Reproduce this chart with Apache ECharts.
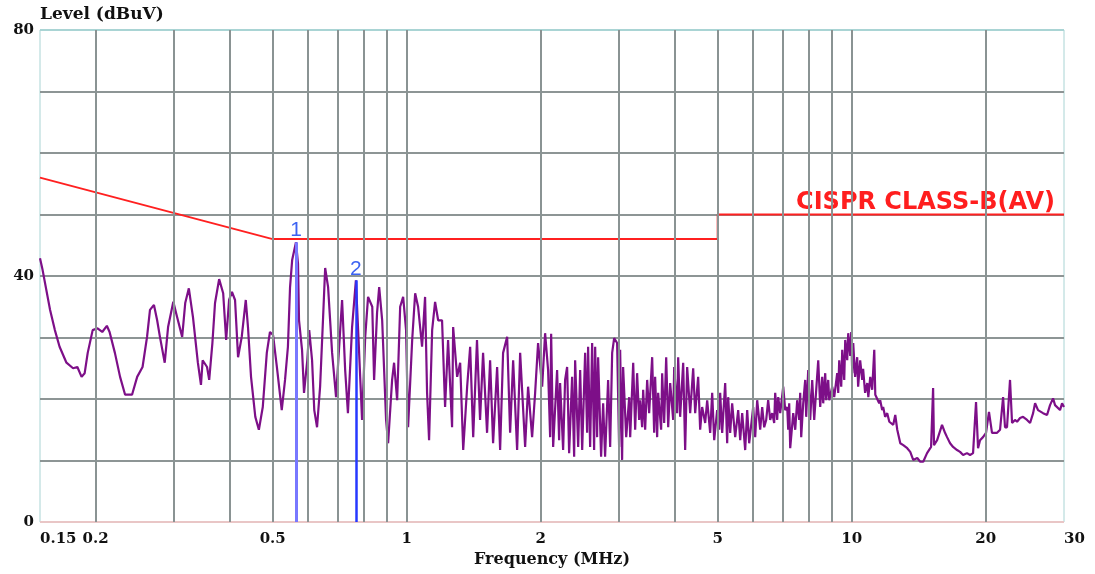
<!DOCTYPE html>
<html>
<head>
<meta charset="utf-8">
<script src="https://cdn.jsdelivr.net/npm/echarts@6/dist/echarts.min.js"></script>
<style>
html, body { margin: 0; padding: 0; background: #fff; }
#main { width: 1095px; height: 574px; }
</style>
</head>
<body>
<div id="main"></div>
<script>
// x axis: frequency in MHz (log), y axis: level in dBuV
var tickFreq = [0.15, 0.2, 0.5, 1, 2, 5, 10, 20, 30];
var gridFreq = [0.2, 0.3, 0.4, 0.5, 0.6, 0.7, 0.8, 0.9, 1, 2, 3, 4, 5, 6, 7, 8, 9, 10, 20];
var levelTicks = [0, 40, 80];

// CISPR class B average limit
var limitFreq = [0.15, 0.5, 5, 5, 30];
var limitLevel = [56, 46, 46, 50, 50];

// peak markers
var markerName = ['1', '2'];
var markerFreq = [0.564, 0.769];
var markerLevel = [45.5, 39.3];

var traceFreq = [
    0.150, 0.152, 0.158, 0.162, 0.166, 0.172, 0.178, 0.182, 0.186, 0.189,
    0.192, 0.197, 0.202, 0.207, 0.212, 0.215, 0.221, 0.227, 0.233, 0.2415,
    0.248, 0.255, 0.261, 0.265, 0.2705, 0.275, 0.279, 0.286, 0.291, 0.299,
    0.305, 0.313, 0.318, 0.324, 0.331, 0.3395, 0.345, 0.348, 0.356, 0.360,
    0.366, 0.371, 0.379, 0.387, 0.393, 0.399, 0.405, 0.4115, 0.418, 0.426,
    0.435, 0.440, 0.447, 0.457, 0.4655, 0.475, 0.485, 0.493, 0.501, 0.511,
    0.524, 0.533, 0.541, 0.547, 0.553, 0.564, 0.570, 0.573, 0.582, 0.588,
    0.598, 0.604, 0.613, 0.620, 0.629, 0.639, 0.649, 0.656, 0.666, 0.680,
    0.694, 0.709, 0.716, 0.7275, 0.738, 0.754, 0.769, 0.778, 0.794, 0.807,
    0.819, 0.837, 0.845, 0.858, 0.8675, 0.881, 0.899, 0.9085, 0.9275, 0.937,
    0.952, 0.967, 0.982, 0.997, 1.0075, 1.029, 1.045, 1.061, 1.083, 1.100,
    1.1115, 1.123, 1.141, 1.1585, 1.177, 1.201, 1.220, 1.239, 1.265, 1.272,
    1.2985, 1.319, 1.340, 1.3675, 1.389, 1.411, 1.439, 1.462, 1.485, 1.516,
    1.540, 1.564, 1.597, 1.622, 1.647, 1.682, 1.708, 1.735, 1.771, 1.799,
    1.846, 1.8745, 1.914, 1.944, 1.974, 2.016, 2.047,
    2.079, 2.101, 2.112, 2.134, 2.178, 2.201, 2.212, 2.247, 2.270, 2.294,
    2.318, 2.354, 2.379, 2.391, 2.429, 2.454, 2.480, 2.518, 2.544, 2.557,
    2.584, 2.611, 2.638, 2.652, 2.679, 2.693, 2.735, 2.764, 2.792, 2.836,
    2.866, 2.896, 2.926, 2.971, 3.002, 3.018, 3.049, 3.065, 3.114, 3.163,
    3.179, 3.229, 3.262, 3.295, 3.330, 3.347, 3.382, 3.400, 3.435, 3.471,
    3.507, 3.562, 3.599, 3.617, 3.655, 3.674, 3.731, 3.751, 3.790, 3.830,
    3.870, 3.910, 3.971, 3.992, 4.053, 4.075, 4.117, 4.182, 4.225, 4.269,
    4.336, 4.404, 4.450, 4.519, 4.566, 4.613, 4.686, 4.735, 4.809, 4.859,
    4.910, 4.986, 5.038, 5.064, 5.117, 5.197, 5.251, 5.278, 5.333, 5.388,
    5.473, 5.559, 5.617, 5.675, 5.764, 5.824, 5.884, 6.008, 6.070,
    6.133, 6.229, 6.294, 6.359, 6.426, 6.492, 6.560, 6.628, 6.697, 6.732,
    6.802, 6.838, 6.909, 7.018, 7.090, 7.164, 7.201, 7.238, 7.276, 7.390,
    7.467, 7.544, 7.622, 7.662, 7.702, 7.782, 7.863, 7.903, 7.986, 8.069,
    8.153, 8.238, 8.324, 8.411, 8.498, 8.586, 8.631, 8.721, 8.766, 8.857,
    8.903, 9.042, 9.136, 9.279, 9.328, 9.376, 9.474, 9.523, 9.622, 9.672,
    9.772, 9.823, 9.925, 9.977, 10.03, 10.08, 10.18, 10.29, 10.34, 10.45,
    10.56, 10.61, 10.72, 10.84, 10.90, 11.01, 11.12, 11.24, 11.30, 11.41,
    11.53, 11.59, 11.71, 11.77, 11.89, 12.02, 12.15, 12.21, 12.40, 12.53,
    12.66, 12.86, 13.06, 13.33, 13.54, 13.75, 14.04, 14.26, 14.48, 14.77,
    15.08, 15.24, 15.31, 15.56, 15.96, 16.21, 16.38, 16.64, 16.90, 17.25,
    17.52, 17.80, 18.16, 18.45, 18.74, 19.03, 19.23, 19.43, 19.73, 20.04,
    20.35, 20.67, 21.22, 21.55, 21.89, 22.11, 22.34, 22.69, 22.93, 23.28,
    23.53, 23.90, 24.27, 24.78, 25.17, 25.57, 25.83, 26.23, 26.50, 26.92,
    27.48, 27.91, 28.35, 28.64, 29.39, 29.70, 30.0
];
var traceLevel = [
    42.9, 41.0, 34.5, 31.2, 28.5, 25.9, 25.0, 25.2, 23.6, 24.2,
    27.5, 31.2, 31.5, 30.9, 31.9, 30.9, 27.5, 23.6, 20.7, 20.7,
    23.6, 25.2, 30.1, 34.5, 35.3, 32.8, 30.1, 25.9, 31.7, 35.8,
    33.3, 30.1, 35.6, 38.0, 33.3, 25.9, 22.3, 26.3, 25.2, 23.1,
    29.1, 35.6, 39.5, 37.2, 29.6, 36.1, 37.4, 36.1, 26.8, 30.1,
    36.1, 31.7, 23.6, 17.1, 15.0, 18.7, 27.5, 30.9, 30.4, 25.2,
    18.2, 23.1, 28.5, 38.2, 42.6, 45.5, 42.0, 32.8, 28.0, 21.0,
    26.3, 31.2, 26.3, 18.2, 15.4, 22.0, 33.3, 41.3, 38.2, 27.5,
    20.3, 31.2, 36.1, 24.7, 17.7, 31.7, 39.3, 31.2, 16.6, 30.1,
    36.6, 35.0, 23.1, 34.0, 38.2, 32.8, 16.6, 12.8, 23.1, 25.9,
    19.8, 35.0, 36.6, 31.2, 15.4, 29.6, 37.2, 35.0, 28.5, 36.6,
    21.0, 13.3, 31.2, 35.8, 32.8, 32.8, 18.7, 29.6, 15.4, 31.7,
    23.6, 25.9, 11.7, 22.0, 28.5, 13.8, 29.6, 16.6, 27.5, 14.5,
    26.3, 12.8, 25.2, 11.7, 27.5, 30.1, 14.5, 26.3, 11.7, 27.5,
    12.2, 22.0, 13.8, 21.0, 29.1, 22.0, 30.7,
    24.7, 13.8, 30.6, 12.2, 24.7, 13.3, 22.6, 11.7, 23.1, 25.2,
    11.2, 23.6, 10.6, 26.3, 12.2, 24.7, 11.7, 27.5, 14.5, 28.5,
    12.2, 29.1, 11.7, 28.5, 13.8, 26.8, 10.6, 19.3, 10.6, 23.1,
    12.2, 27.5, 29.9, 29.1, 12.2, 28.0, 10.1, 25.2, 13.8, 20.3,
    13.8, 25.9, 15.0, 24.2, 16.6, 19.8, 15.4, 21.5, 15.0, 23.1,
    17.7, 26.8, 14.5, 23.6, 13.8, 21.0, 15.0, 24.2, 16.1, 26.8,
    15.4, 22.6, 16.6, 25.2, 17.7, 26.8, 17.1, 25.9, 11.7, 25.2,
    17.7, 25.0, 17.7, 23.6, 15.0, 18.7, 16.1, 19.8, 14.5, 21.0,
    13.3, 18.2, 15.0, 21.0, 14.5, 22.6, 12.8, 20.3, 14.5, 19.3,
    13.8, 18.2, 13.3, 17.7, 11.7, 18.2, 12.8, 18.7, 13.8,
    19.8, 15.0, 18.7, 15.4, 16.6, 19.8, 16.6, 17.7, 16.1, 21.0,
    16.6, 20.3, 17.7, 22.0, 18.2, 18.7, 15.0, 19.3, 12.0, 17.7,
    15.0, 19.8, 16.6, 21.0, 13.8, 19.3, 23.1, 17.1, 24.7, 16.6,
    23.1, 16.6, 21.5, 26.3, 18.7, 23.6, 19.3, 24.2, 19.8, 23.1,
    19.8, 22.0, 20.3, 24.2, 21.0, 26.3, 22.0, 28.0, 23.1, 29.6,
    26.3, 30.7, 27.0, 30.9, 24.2, 29.1, 23.6, 26.8, 22.0, 26.3,
    23.1, 24.9, 21.0, 22.6, 20.3, 23.6, 21.5, 28.0, 20.7, 21.0,
    19.3, 19.8, 18.2, 18.7, 17.1, 17.7, 16.3, 16.6, 15.8, 17.4,
    15.0, 12.8, 12.5, 12.0, 11.4, 10.1, 10.4, 9.8, 9.8, 11.2,
    12.2, 21.8, 12.5, 13.3, 15.8, 14.5, 13.8, 12.8, 12.2, 11.7,
    11.4, 10.9, 11.2, 10.9, 11.2, 19.5, 12.0, 13.3, 13.8, 14.5,
    17.9, 14.5, 14.5, 15.0, 20.3, 15.4, 15.4, 23.1, 16.1, 16.6,
    16.3, 16.9, 17.1, 16.6, 16.1, 17.7, 19.3, 18.2, 18.5, 17.7,
    17.4, 19.0, 20.1, 19.0, 18.2, 19.3, 18.7
];

var labelFont = 'DejaVu Serif';

function draw() {
    var chart = echarts.init(document.getElementById('main'), null, { renderer: 'canvas' });

    var traceData = traceFreq.map(function (f, i) { return [f, traceLevel[i]]; });
    var limitData = limitFreq.map(function (f, i) { return [f, limitLevel[i]]; });

    // blue marker lines from the floor up to each peak
    var markerLines = markerFreq.map(function (f, i) {
        return [
            { coord: [f, 0], name: markerName[i], lineStyle: { color: i == 0 ? '#7878ff' : '#2638ff', width: i == 0 ? 3 : 2.5, type: 'solid' } },
            { coord: [f, markerLevel[i]], name: markerName[i] }
        ];
    });

    // horizontal grid: light border colour at 0 and 80, grey in between
    var hColors = ['#e9c6c6', '#8d9595', '#8d9595', '#8d9595', '#8d9595', '#8d9595', '#8d9595', '#8d9595', '#a9d4d4'];

    var option = {
        backgroundColor: '#fff',
        animation: false,
        grid: {
            left: 40, right: 31, top: 30, bottom: 52,
            containLabel: false,
            outerBoundsMode: 'none',
            show: true,
            borderColor: '#a9d4d4',
            borderWidth: 1
        },
        xAxis: {
            type: 'log',
            logBase: 10,
            min: 0.15,
            max: 30,
            name: 'Frequency (MHz)',
            nameLocation: 'middle',
            nameGap: 30,
            nameTextStyle: { fontFamily: labelFont, fontWeight: 'bold', fontSize: 16, color: '#111' },
            axisLine: { show: false },
            axisTick: { show: false },
            splitLine: { show: false },
            minorTick: { show: false },
            minorSplitLine: { show: false },
            axisLabel: {
                customValues: tickFreq,
                margin: 10,
                fontFamily: labelFont,
                fontWeight: 'bold',
                fontSize: 15,
                color: '#111',
                alignMinLabel: 'left',
                alignMaxLabel: 'left',
                formatter: function (v) { return String(+(+v).toPrecision(3)); }
            }
        },
        yAxis: {
            type: 'value',
            min: 0,
            max: 80,
            interval: 10,
            name: 'Level (dBuV)',
            nameLocation: 'end',
            nameGap: 7,
            nameMoveOverlap: false,
            nameTextStyle: { fontFamily: labelFont, fontWeight: 'bold', fontSize: 17, color: '#111', align: 'left', verticalAlign: 'bottom' },
            axisLine: { show: false },
            axisTick: { show: false },
            splitLine: { show: true, lineStyle: { color: hColors, width: 2 } },
            axisLabel: {
                margin: 6,
                fontFamily: labelFont,
                fontWeight: 'bold',
                fontSize: 15,
                color: '#111',
                formatter: function (v) { return levelTicks.indexOf(v) >= 0 ? String(v) : ''; }
            }
        },
        graphic: [{
            type: 'text',
            right: 40,
            top: 191,
            style: {
                text: 'CISPR CLASS-B(AV)',
                fill: '#ff1e1e',
                font: 'bold 24px "DejaVu Sans"'
            }
        }],
        series: [
            {
                // vertical grid lines at the decade steps
                name: 'grid',
                type: 'line',
                data: [],
                silent: true,
                z: 1,
                markLine: {
                    silent: true,
                    animation: false,
                    symbol: ['none', 'none'],
                    label: { show: false },
                    lineStyle: { color: '#8a9393', width: 2, type: 'solid' },
                    data: gridFreq.map(function (f) { return { xAxis: f }; })
                }
            },
            {
                name: 'Level',
                type: 'line',
                data: traceData,
                showSymbol: false,
                symbol: 'none',
                sampling: 'none',
                z: 3,
                lineStyle: { color: '#7d0f88', width: 2.2 }
            },
            {
                name: 'CISPR CLASS-B(AV)',
                type: 'line',
                data: limitData,
                showSymbol: false,
                symbol: 'none',
                z: 4,
                lineStyle: { color: '#ff2020', width: 2 }
            },
            {
                name: 'markers',
                type: 'line',
                data: [],
                z: 5,
                markLine: {
                    silent: true,
                    animation: false,
                    symbol: ['none', 'none'],
                    lineStyle: { type: 'solid' },
                    label: {
                        show: true,
                        position: 'end',
                        formatter: '{b}',
                        color: '#3d63f2',
                        fontSize: 21,
                        fontFamily: 'Liberation Sans',
                        distance: 1
                    },
                    data: markerLines
                }
            }
        ]
    };

    chart.setOption(option);
}

window.addEventListener('load', draw, false);
</script>
</body>
</html>
